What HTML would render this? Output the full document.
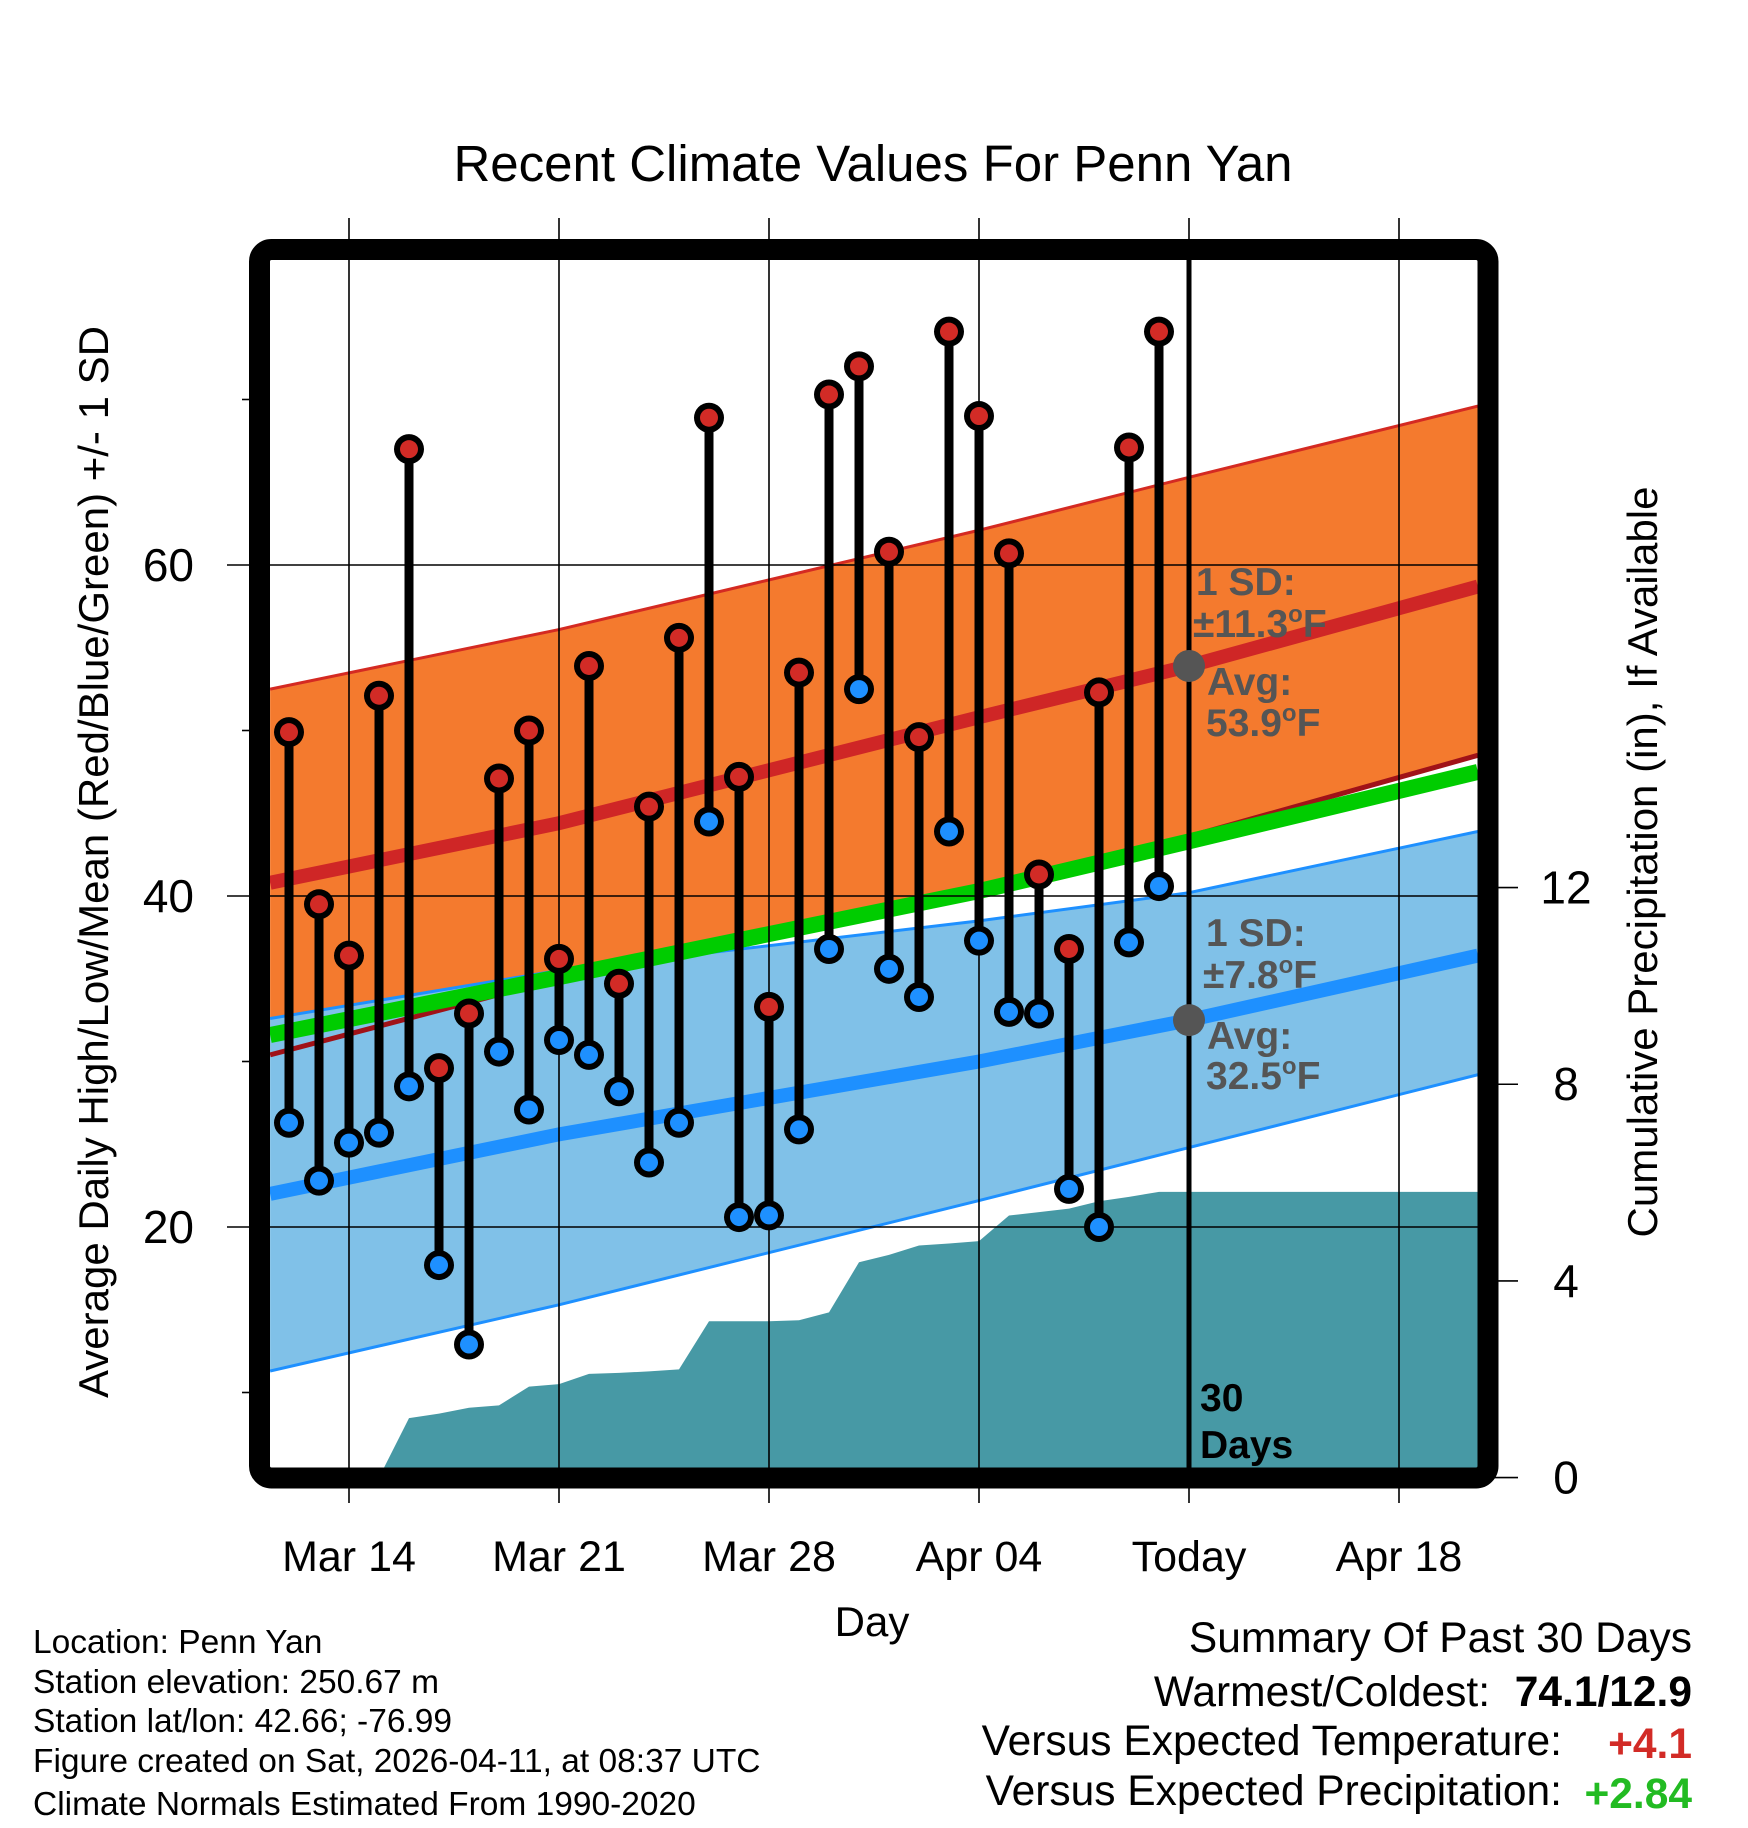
<!DOCTYPE html>
<html><head><meta charset="utf-8"><title>Recent Climate Values For Penn Yan</title>
<style>
html,body{margin:0;padding:0;background:#fff;}
svg{display:block;font-family:"Liberation Sans",Arial,sans-serif;}
</style></head>
<body>
<svg id="chart" width="1748" height="1828" viewBox="0 0 1748 1828" xmlns="http://www.w3.org/2000/svg">
<defs><clipPath id="plotClip"><rect x="270" y="260" width="1208" height="1208"/></clipPath></defs>
<text x="873" y="181" font-size="51" text-anchor="middle">Recent Climate Values For Penn Yan</text>
<g id="plot" clip-path="url(#plotClip)"></g>
<g id="over"></g>
<text transform="translate(108,862) rotate(-90)" font-size="42" text-anchor="middle">Average Daily High/Low/Mean (Red/Blue/Green) +/- 1 SD</text>
<text transform="translate(1657,862) rotate(-90)" font-size="42" text-anchor="middle">Cumulative Precipitation (in), If Available</text>
<text x="872" y="1636" font-size="42" text-anchor="middle">Day</text>
<g font-size="33.5">
<text x="33" y="1653">Location: Penn Yan</text>
<text x="33" y="1693">Station elevation: 250.67 m</text>
<text x="33" y="1732">Station lat/lon: 42.66; -76.99</text>
<text x="33" y="1772">Figure created on Sat, 2026-04-11, at 08:37 UTC</text>
<text x="33" y="1815">Climate Normals Estimated From 1990-2020</text>
</g>
<g font-size="42.5">
<text x="1692" y="1652" text-anchor="end">Summary Of Past 30 Days</text>
<text x="1490" y="1706" text-anchor="end">Warmest/Coldest:</text>
<text x="1692" y="1706" text-anchor="end" font-weight="bold">74.1/12.9</text>
<text x="1562" y="1755" text-anchor="end">Versus Expected Temperature:</text>
<text x="1692" y="1758" text-anchor="end" font-weight="bold" fill="#d22b26">+4.1</text>
<text x="1562" y="1805" text-anchor="end">Versus Expected Precipitation:</text>
<text x="1692" y="1808" text-anchor="end" font-weight="bold" fill="#22bb22">+2.84</text>
</g>
</svg>
<script>
// day index relative to Mar 14 (0)
const obsDays = [-2,-1,0,1,2,3,4,5,6,7,8,9,10,11,12,13,14,15,16,17,18,19,20,21,22,23,24,25,26,27];
const highs = [49.9,39.5,36.4,52.1,67.0,29.6,32.9,47.1,50.0,36.2,53.9,34.7,45.4,55.6,68.9,47.2,33.3,53.5,70.3,72.0,60.8,49.6,74.1,69.0,60.7,41.3,36.8,52.3,67.1,74.1];
const lows = [26.3,22.8,25.1,25.7,28.5,17.7,12.9,30.6,27.1,31.3,30.4,28.2,23.9,26.3,44.5,20.6,20.7,25.9,36.8,52.5,35.6,33.9,43.9,37.3,33.0,32.9,22.3,20.0,37.2,40.6];
const precip = [0,0,0,0,1.21,1.30,1.42,1.47,1.85,1.90,2.11,2.13,2.16,2.20,3.18,3.18,3.18,3.20,3.36,4.38,4.53,4.72,4.76,4.81,5.33,5.40,5.47,5.62,5.71,5.81];
const normKnots = [-2.63,7,21,28,37.63];
const highMean = [40.8,44.4,50.8,53.9,58.7];
const highUpper = [52.5,56.1,62.1,65.3,69.6];
const highLower = [30.4,35.0,40.3,43.6,48.5];
const lowMean = [22.0,25.6,30.0,32.5,36.4];
const lowUpper = [32.6,35.5,38.5,40.2,43.9];
const lowLower = [11.3,15.3,21.6,24.8,29.2];
const greenMean = [31.6,35.1,40.3,43.3,47.5];
const xTickDays = [0,7,14,21,28,35];
const xTickLabels = ["Mar 14","Mar 21","Mar 28","Apr 04","Today","Apr 18"];
const yMajor = [20,40,60];
const yMinor = [10,30,50,70];
const pTicks = [0,4,8,12];
const todayDay = 28;
const highAvgLabel = "53.9", highSdLabel = "11.3", lowAvgLabel = "32.5", lowSdLabel = "7.8";

const NS="http://www.w3.org/2000/svg";
const X0=270,X1=1478,Y0=260,Y1=1468;
const xOf=d=>349+30*d;
const yT=t=>565-(t-60)*16.55;
const yP=p=>1477.6-49.17*p;
const plot=document.getElementById('plot'), svg=document.getElementById('chart');
function mk(tag,attrs,parent){const e=document.createElementNS(NS,tag);for(const k in attrs)e.setAttribute(k,attrs[k]);parent.appendChild(e);return e;}
function linePts(arr){return normKnots.map((d,i)=>xOf(d)+','+yT(arr[i])).join(' ');}
function bandPts(up,lo){const a=normKnots.map((d,i)=>xOf(d)+','+yT(up[i]));const b=normKnots.slice().reverse().map((d,j)=>{const i=normKnots.length-1-j;return xOf(d)+','+yT(lo[i]);});return a.concat(b).join(' ');}

let e=mk('polygon',{points:bandPts(highUpper,highLower),fill:'#f47a2e'},plot);

e=mk('polyline',{points:linePts(highUpper),fill:'none',stroke:'#d42a22','stroke-width':3},plot);

e=mk('polygon',{points:bandPts(lowUpper,lowLower),fill:'#80c1e8'},plot);

e=mk('polyline',{points:linePts(lowUpper),fill:'none',stroke:'#1e90ff','stroke-width':3},plot);

e=mk('polyline',{points:linePts(lowLower),fill:'none',stroke:'#1e90ff','stroke-width':3},plot);

e=mk('polyline',{points:linePts(highLower),fill:'none',stroke:'#a01218','stroke-width':5},plot);

e=mk('polyline',{points:linePts(greenMean),fill:'none',stroke:'#00cc00','stroke-width':16},plot);

e=mk('polyline',{points:linePts(highMean),fill:'none',stroke:'#cf2626','stroke-width':14},plot);

e=mk('polyline',{points:linePts(lowMean),fill:'none',stroke:'#1e90ff','stroke-width':14},plot);


let pp=[];
pp.push(xOf(obsDays[0])+','+yP(0));
obsDays.forEach((d,i)=>pp.push(xOf(d)+','+yP(precip[i])));
pp.push((X1+5)+','+yP(precip[precip.length-1]));
pp.push((X1+5)+','+yP(0));
e=mk('polygon',{points:pp.join(' '),fill:'#4799a5'},plot);


yMajor.forEach(v=>{const g=mk('line',{x1:227,x2:X1,y1:yT(v),y2:yT(v),stroke:'#000','stroke-width':1.6},svg);

const t=mk('text',{x:194,y:yT(v)+16,'font-size':46,'text-anchor':'end'},svg);t.textContent=v;
});
yMinor.forEach(v=>{const g=mk('line',{x1:242,x2:252,y1:yT(v),y2:yT(v),stroke:'#000','stroke-width':1.6},svg);
});
xTickDays.forEach((d,i)=>{const x=xOf(d);
const g=mk('line',{x1:x,x2:x,y1:218,y2:1503,stroke:'#000','stroke-width':1.6},svg);

const t=mk('text',{x:x,y:1571,'font-size':43,'text-anchor':'middle'},svg);t.textContent=xTickLabels[i];
});
pTicks.forEach(v=>{const g=mk('line',{x1:1490,x2:1518,y1:yP(v),y2:yP(v),stroke:'#000','stroke-width':1.6},svg);

const t=mk('text',{x:1566,y:yP(v)+16,'font-size':46,'text-anchor':'middle'},svg);t.textContent=v;
});

e=mk('line',{x1:xOf(todayDay),x2:xOf(todayDay),y1:255,y2:Y1,stroke:'#000','stroke-width':5},svg);


function ann(txt,x,y,name,fill,size){const t=mk('text',{x:x,y:y,'font-size':size||39,'font-weight':'bold',fill:fill||'#555'},svg);t.innerHTML=txt;
return t;}
e=mk('circle',{cx:xOf(todayDay),cy:yT(parseFloat(highAvgLabel)),r:16,fill:'#555'},svg);

e=mk('circle',{cx:xOf(todayDay),cy:yT(parseFloat(lowAvgLabel)),r:16,fill:'#555'},svg);

const deg='<tspan font-size="24" dy="-15">o</tspan><tspan dy="15">F</tspan>';
ann('1 SD:',1196,595,'high-sd-label');
ann('±'+highSdLabel+deg,1193,637,'high-sd-value');
ann('Avg:',1207,695,'high-avg-label');
ann(highAvgLabel+deg,1206,736,'high-avg-value');
ann('1 SD:',1206,946,'low-sd-label');
ann('±'+lowSdLabel+deg,1203,988,'low-sd-value');
ann('Avg:',1207,1049,'low-avg-label');
ann(lowAvgLabel+deg,1206,1089,'low-avg-value');
ann('30',1200,1411,'days-count-label','#000',39);
ann('Days',1200,1458,'days-label','#000',39);

obsDays.forEach((d,i)=>{const x=xOf(d);
const s=mk('line',{x1:x,x2:x,y1:yT(highs[i]),y2:yT(lows[i]),stroke:'#000','stroke-width':9},svg);

[[highs[i],'#d22b26','high-dot'],[lows[i],'#1e90ff','low-dot']].forEach(p=>{
const o=mk('circle',{cx:x,cy:yT(p[0]),r:15,fill:'#000'},svg);

const c=mk('circle',{cx:x,cy:yT(p[0]),r:9,fill:p[1]},svg);
});});

e=mk('rect',{x:259.5,y:249.5,width:1228.5,height:1228.5,rx:12,fill:'none',stroke:'#000','stroke-width':21},svg);

</script>
</body></html>
